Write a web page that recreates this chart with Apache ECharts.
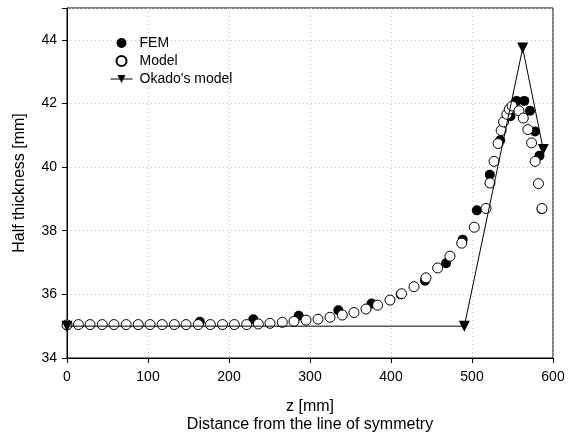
<!DOCTYPE html>
<html><head><meta charset="utf-8">
<script src="https://cdn.jsdelivr.net/npm/echarts@6/dist/echarts.min.js"></script>
<style>html,body{margin:0;padding:0;background:#fff}#c{width:576px;height:439px}</style>
</head><body><div id="c"></div>
<script>
// FEM (filled circles)
const femZ = [0, 88, 164, 230, 286, 335, 376, 412, 442, 468, 488.5, 506, 522, 534.8, 547.5, 555, 564.6, 571.6, 577.8, 583.3, 586];
const femH = [35.02, 35.04, 35.14, 35.22, 35.33, 35.5, 35.71, 36.0, 36.43, 36.98, 37.72, 38.64, 39.76, 40.84, 41.6, 42.08, 42.08, 41.77, 41.12, 40.36, 38.68];
// Model (open circles)
const modelZ = [0, 14, 28.5, 43.5, 58, 73, 88, 102.5, 117.5, 132.5, 147, 162, 177, 192, 206.6, 221.8, 236.2, 250.6, 265.8, 280.2, 295.1, 309.9, 324.7, 339.9, 354.3, 369.1, 383.5, 398.8, 413, 428.4, 443.2, 457.6, 472.8, 487.3, 502.8, 517.3, 522.2, 527.2, 532.2, 536, 539, 543, 546, 549.5, 558, 563.3, 569, 573.5, 578, 582, 586.4];
const modelH = [35.04, 35.05, 35.05, 35.05, 35.05, 35.05, 35.05, 35.05, 35.05, 35.05, 35.05, 35.05, 35.05, 35.05, 35.05, 35.05, 35.07, 35.09, 35.12, 35.15, 35.19, 35.22, 35.28, 35.35, 35.43, 35.54, 35.66, 35.82, 36.02, 36.24, 36.52, 36.83, 37.2, 37.61, 38.11, 38.7, 39.5, 40.18, 40.74, 41.15, 41.42, 41.66, 41.82, 41.92, 41.77, 41.54, 41.18, 40.76, 40.18, 39.48, 38.7];
// Okado's model (line with down triangles)
const okadoZ = [0, 490.5, 562.6, 588];
const okadoH = [35.0, 35.0, 43.74, 40.55];

const xTicks = {min: 0, max: 600, interval: 100};
const yTicks = {min: 34, max: 45, interval: 2};

const pairs = (a, b) => a.map((v, i) => [v, b[i]]);
const font = '"Liberation Sans", Arial, sans-serif';

const chart = echarts.init(document.getElementById('c'), null, {renderer: 'canvas'});
chart.setOption({
  animation: false,
  backgroundColor: '#fff',
  grid: {left: 67, right: 23, top: 8, bottom: 78, show: true, borderColor: '#000', borderWidth: 1},
  legend: {
    orient: 'vertical', left: 105, top: 31, itemWidth: 22, itemHeight: 10, itemGap: 4,
    textStyle: {fontSize: 14, color: '#000', fontFamily: font, padding: [0, 0, 0, 2]},
    lineStyle: {width: 1},
    data: ['FEM', 'Model', "Okado's model"]
  },
  xAxis: {
    type: 'value', min: xTicks.min, max: xTicks.max, interval: xTicks.interval,
    axisLine: {onZero: false, lineStyle: {color: '#000', width: 1}},
    axisTick: {inside: false, length: 5, lineStyle: {color: '#000'}},
    axisLabel: {color: '#000', fontSize: 14, margin: 12, fontFamily: font},
    splitLine: {show: true, lineStyle: {color: '#c8c8c8', type: [1, 3]}},
    name: 'z [mm]\nDistance from the line of symmetry', nameLocation: 'middle', nameGap: 40,
    nameTextStyle: {color: '#000', fontSize: 16, fontFamily: font, lineHeight: 18}
  },
  yAxis: {
    type: 'value', min: yTicks.min, max: yTicks.max, interval: yTicks.interval,
    axisLine: {onZero: false, lineStyle: {color: '#000', width: 1}},
    axisTick: {inside: false, length: 5, lineStyle: {color: '#000'}},
    axisLabel: {color: '#000', fontSize: 14, margin: 10, fontFamily: font, formatter: v => v > 44 ? '' : String(v)},
    splitLine: {show: true, lineStyle: {color: '#c8c8c8', type: [1, 3]}},
    name: 'Half thickness [mm]', nameLocation: 'middle', nameGap: 39,
    nameTextStyle: {color: '#000', fontSize: 16, fontFamily: font}
  },
  series: [
    {name: 'FEM', type: 'scatter', symbol: 'circle', symbolSize: 10, silent: true,
     itemStyle: {color: '#000', opacity: 1}, data: pairs(femZ, femH)},
    {name: 'Model', type: 'scatter', symbol: 'circle', symbolSize: 10, silent: true,
     itemStyle: {color: '#fff', borderColor: '#000', borderWidth: 1, opacity: 1}, data: pairs(modelZ, modelH)},
    {name: "Okado's model", type: 'line', symbol: 'triangle', symbolRotate: 180, symbolSize: 11, silent: true,
     lineStyle: {color: '#000', width: 1}, itemStyle: {color: '#000', opacity: 1}, data: pairs(okadoZ, okadoH)}
  ]
});
</script></body></html>
